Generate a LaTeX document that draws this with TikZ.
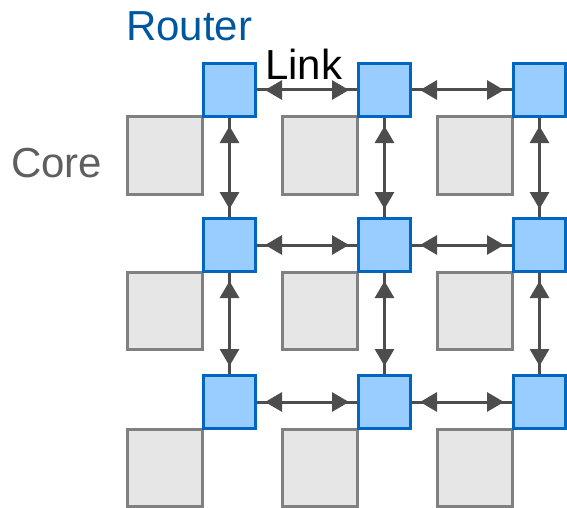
\documentclass[tikz,border=0pt]{standalone}
\usepackage{fontspec}
\setmainfont{Liberation Sans}
\usetikzlibrary{arrows.meta}
\definecolor{rfill}{HTML}{99CCFF}
\definecolor{rdraw}{HTML}{0066C0}
\definecolor{cfill}{HTML}{E6E6E6}
\definecolor{cdraw}{HTML}{808080}
\definecolor{lcol}{HTML}{4D4D4D}
\definecolor{rtext}{HTML}{00579E}
\definecolor{ctext}{HTML}{5F5F5F}
\begin{document}
\begin{tikzpicture}[x=1pt,y=-1pt,
 router/.style={draw=rdraw,fill=rfill,line width=3pt,minimum width=52pt,minimum height=53pt,inner sep=0pt,shape=rectangle},
 core/.style={draw=cdraw,fill=cfill,line width=3pt,minimum width=75pt,minimum height=77pt,inner sep=0pt,shape=rectangle},
 linkline/.style={draw=lcol,line width=3pt},
 tips/.style={draw=lcol,fill=lcol,line width=3pt,{Triangle[length=17pt,width=19pt]}-{Triangle[length=17pt,width=19pt]},shorten <=8pt,shorten >=8pt},
 lbl/.style={font=\fontsize{42}{42}\selectfont,inner sep=0pt,anchor=base west}]
\useasboundingbox (0,0) rectangle (567,508);
\foreach \i/\y in {1/90,2/245,3/402}{
  \foreach \j/\x in {1/229.5,2/384.5,3/539.5}{
    \node[core] (c\i\j) at (\x-65,\y+65.5) {};
    \node[router] (r\i\j) at (\x,\y) {};
  }
}
\foreach \i in {1,2,3}{
  \foreach \j/\k in {1/2,2/3}{
    \draw[linkline] (r\i\j.east) -- (r\i\k.west);
    \draw[tips] (r\i\j.east) -- (r\i\k.west);
    \draw[linkline] (r\j\i.south) -- (r\k\i.north);
    \draw[tips] (r\j\i.south) -- (r\k\i.north);
  }
}
\node[lbl,text=rtext] (routerlbl) at (126,41) {Router};
\node[lbl,text=black] (linklbl) at (265,80) {Link};
\node[lbl,text=ctext] (corelbl) at (11,177) {Core};
\end{tikzpicture}
\end{document}
